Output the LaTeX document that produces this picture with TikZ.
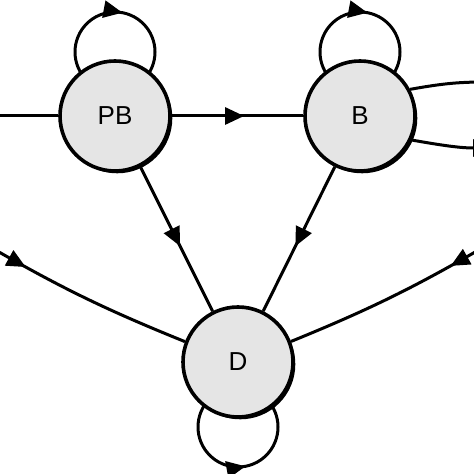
\documentclass[tikz,border=0pt]{standalone}
\usepackage{fontspec}
\setmainfont{Liberation Sans}
\usetikzlibrary{arrows.meta,decorations.markings,shadows,backgrounds}
\tikzset{
  statenode/.style={circle, draw=black, line width=3.6pt, fill=black!10,
    minimum size=110pt, inner sep=0pt, text=black,
    font=\fontsize{26}{30}\selectfont,
    drop shadow={shadow xshift=2.3pt, shadow yshift=-2.3pt, opacity=1, fill=black}},
  conn/.style={line width=3pt, draw=black},
  tipmark/.style={postaction={decorate}, decoration={markings,
    mark=at position #1 with {\arrow{Triangle[length=19pt,width=17pt]}}}},
}
\begin{document}
\begin{tikzpicture}[x=1pt,y=1pt]
\useasboundingbox (0,0) rectangle (474,474);
\clip (0,0) rectangle (474,474);
\node[statenode] (PB) at (115,358) {PB};
\node[statenode] (B) at (360,358) {B};
\node[statenode] (D) at (238,112) {D};
\begin{scope}[on background layer]
\draw[conn, tipmark=0.28] ([yshift=64pt]PB.center) ++(-40,0) arc[start angle=180, end angle=-180, radius=40];
\draw[conn, tipmark=0.28] ([yshift=64pt]B.center) ++(-40,0) arc[start angle=180, end angle=-180, radius=40];
\draw[conn, tipmark=0.28] ([yshift=-65pt]D.center) ++(-40,0) arc[start angle=180, end angle=540, radius=40];
\end{scope}
\coordinate (Lin) at (-10,358);
\coordinate (Lcurve) at (-15,230);
\coordinate (Rcurve) at (489,230);
\coordinate (RU) at (485,392);
\coordinate (RL) at (492,326);
\draw[conn] (Lin) -- (PB);
\draw[conn, tipmark=0.55] (PB) -- (B);
\draw[conn, tipmark=0.55] (PB) -- (D);
\draw[conn, tipmark=0.55] (B) -- (D);
\draw[conn, tipmark=0.21] (Lcurve) to[bend right=4] (D);
\draw[conn, tipmark=0.2] (Rcurve) to[bend left=4] (D);
\draw[conn] (B.28) to[out=10, in=180] (RU);
\draw[conn, -{Triangle[length=19pt,width=17pt]}] (B.-25) to[out=-10, in=180] (RL);
\end{tikzpicture}
\end{document}
